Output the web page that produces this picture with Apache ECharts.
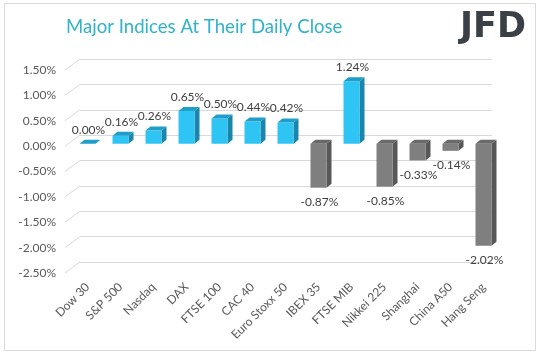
<!DOCTYPE html>
<html><head><meta charset="utf-8">
<script src="https://cdn.jsdelivr.net/npm/echarts@6/dist/echarts.min.js"></script>
<style>html,body{margin:0;padding:0;background:#fff}#c{width:542px;height:355px}</style>
</head><body><div id="c"></div>
<script>
var categories = ['Dow 30','S&P 500','Nasdaq','DAX','FTSE 100','CAC 40','Euro Stoxx 50','IBEX 35','FTSE MIB','Nikkei 225','Shanghai','China A50','Hang Seng'];
var values = [0.00, 0.16, 0.26, 0.65, 0.50, 0.44, 0.42, -0.87, 1.24, -0.85, -0.33, -0.14, -2.02];
var tickValues = [1.5, 1.0, 0.5, 0.0, -0.5, -1.0, -1.5, -2.0, -2.5];

var chart = echarts.init(document.getElementById('c'), null, {renderer:'canvas'});
var FONT = 'Lato, "Open Sans", sans-serif';
var POS = {front:'#2ec5f5', top:'#1e9ec9', side:'#1a86ab'};
var NEG = {front:'#7f7f7f', top:'#6a6a6a', side:'#575757'};

function renderBar(params, api){
  var idx = api.value(0), v = api.value(1);
  var p0 = api.coord([idx, 0]);
  var p1 = api.coord([idx, v]);
  var cx = p0[0], hw = 8, dx = 5, dy = -4;
  var yUp = Math.min(p0[1], p1[1]), yLo = Math.max(p0[1], p1[1]);
  var c = v >= 0 ? POS : NEG;
  var children = [];
  children.push({type:'polygon', shape:{points:[[cx+hw,yUp],[cx+hw+dx,yUp+dy],[cx+hw+dx,yLo+dy],[cx+hw,yLo]]}, style:{fill:c.side}});
  if (yLo - yUp > 0.5) children.push({type:'rect', shape:{x:cx-hw,y:yUp,width:2*hw,height:yLo-yUp}, style:{fill:c.front}});
  children.push({type:'polygon', shape:{points:[[cx-hw,yUp],[cx-hw+dx,yUp+dy],[cx+hw+dx,yUp+dy],[cx+hw,yUp]]}, style:{fill:c.top}});
  var txt = v.toFixed(2) + '%';
  var ty = v >= 0 ? yUp - 14 : yLo + 14.5;
  children.push({type:'text', style:{text:txt, x:cx+1, y:ty, align:'center', verticalAlign:'middle', font:'12px ' + FONT, fill:'#404040'}});
  return {type:'group', children:children};
}

function renderSlant(params, api){
  var v = api.value(0);
  var y = api.coord([0, v])[1];
  var x0 = params.coordSys.x;
  return {type:'line', shape:{x1:x0-6, y1:y, x2:x0+9, y2:y-11}, style:{stroke:'#d9d9d9', lineWidth:1}};
}

chart.setOption({
  animation:false,
  graphic:[
    {type:'rect', shape:{x:4.5,y:3.5,width:531,height:347}, style:{fill:'none', stroke:'#d9d9d9', lineWidth:1}, z:-1},
    {type:'text', left:66, top:17, style:{text:'Major Indices At Their Daily Close', font:'18.6px ' + FONT, fill:'#2fb3c8'}},
    {type:'text', left:460, top:10, style:{text:'JFD', font:'bold 35px "DejaVu Sans", sans-serif', fill:'#3b4046'}}
  ],
  grid:[
    {left:71, right:42, top:70, bottom:82},
    {left:71, right:42, top:68, bottom:85},
    {left:80, right:50, top:59, bottom:93}
  ],
  xAxis:[
    {gridIndex:0, type:'category', data:categories, axisLine:{show:false}, axisTick:{show:false},
     axisLabel:{rotate:45, interval:0, margin:12, color:'#595959', fontSize:12, fontFamily:FONT}},
    {gridIndex:1, type:'category', data:categories, show:false},
    {gridIndex:2, type:'category', data:categories, show:false}
  ],
  yAxis:[
    {gridIndex:0, type:'value', min:-2.5, max:1.5, interval:0.5, splitLine:{show:false}, axisLine:{show:false}, axisTick:{show:false},
     axisLabel:{margin:15, color:'#595959', fontSize:12, fontFamily:FONT, formatter:function(v){return v.toFixed(2)+'%';}}},
    {gridIndex:1, type:'value', min:-2.5, max:1.5, interval:0.5, show:false},
    {gridIndex:2, type:'value', min:-2.5, max:1.5, interval:0.5, axisLine:{show:false}, axisTick:{show:false}, axisLabel:{show:false},
     splitLine:{show:true, lineStyle:{color:'#d9d9d9', width:1}}}
  ],
  series:[
    {type:'custom', xAxisIndex:0, yAxisIndex:0, data:tickValues.map(function(t){return [t];}), encode:{y:0}, renderItem:renderSlant, silent:true},
    {type:'custom', xAxisIndex:1, yAxisIndex:1, data:values.map(function(v,i){return [i,v];}), encode:{x:0,y:1}, renderItem:renderBar, z:5}
  ]
});
</script></body></html>
